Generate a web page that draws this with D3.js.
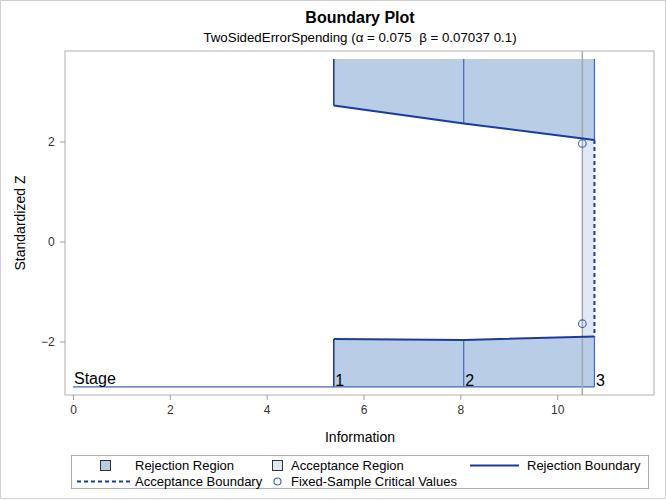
<!DOCTYPE html>
<html><head><meta charset="utf-8">
<script src="https://cdn.jsdelivr.net/npm/d3@7"></script>
<style>
body{margin:0;background:#fff;}
text{font-family:"Liberation Sans",Arial,sans-serif;white-space:pre;}
</style></head>
<body><svg id="c" width="666" height="500"></svg>
<script>
// ---- data ----
const stages = [1, 2, 3];
const info = [5.386, 8.07, 10.77];
const upperBound = [2.72, 2.36, 2.03];
const lowerBound = [-1.95, -1.97, -1.90];
const fixedInfo = 10.52;
const fixedCrit = [1.96, -1.645];
const regionTop = 3.65;
const stageLineZ = -2.907;
const xTicks = [0, 2, 4, 6, 8, 10];
const yTicks = [-2, 0, 2];

const svg = d3.select("#c");
const L = 65, R = 654, T = 51, B = 395;
const x = d3.scaleLinear().domain([-0.165, 12.0]).range([L, R]);
const y = d3.scaleLinear().domain([-3.07, 3.81]).range([B, T]);

// outer border
svg.append("rect").attr("x",0.5).attr("y",0.5).attr("width",665).attr("height",498)
  .attr("fill","none").attr("stroke","#d0d0d0");

// titles
svg.append("text").attr("x",360).attr("y",23).attr("text-anchor","middle")
  .attr("font-weight","bold").attr("font-size",16).text("Boundary Plot");
svg.append("text").attr("x",360).attr("y",42).attr("text-anchor","middle")
  .attr("font-size",13.3).text("TwoSidedErrorSpending (α = 0.075  β = 0.07037 0.1)");

const fill = "#b9cde6", dark = "#1a3c9c", mid = "#3f66c2";
const line = d3.line().x(d=>x(d[0])).y(d=>y(d[1]));

// rejection regions
const up = [[info[0], regionTop]].concat(info.map((v,i)=>[v, upperBound[i]])).concat([[info[2], regionTop]]);
const lo = [[info[0], stageLineZ]].concat(info.map((v,i)=>[v, lowerBound[i]])).concat([[info[2], stageLineZ]]);
svg.append("path").attr("d", line(up)+"Z").attr("fill", fill);
svg.append("path").attr("d", line(lo)+"Z").attr("fill", fill);

// acceptance region
svg.append("path").attr("d", line([[fixedInfo, upperBound[2]],[info[2], upperBound[2]],[info[2], lowerBound[2]],[fixedInfo, lowerBound[2]]])+"Z")
  .attr("fill","#dfe8f4");

// stage vertical lines
info.forEach((v,i)=>{
  svg.append("line").attr("x1",x(v)).attr("x2",x(v)).attr("y1",y(regionTop)).attr("y2",y(upperBound[i]))
    .attr("stroke", i===0?dark:mid).attr("stroke-width",i===0?1.6:1.2);
  svg.append("line").attr("x1",x(v)).attr("x2",x(v)).attr("y1",y(lowerBound[i])).attr("y2",y(stageLineZ))
    .attr("stroke", i===0?dark:mid).attr("stroke-width",i===0?1.6:1.2);
});

// stage baseline
svg.append("line").attr("x1",x(0)).attr("x2",x(info[2])).attr("y1",y(stageLineZ)).attr("y2",y(stageLineZ))
  .attr("stroke",mid).attr("stroke-width",1.2);

// fixed-sample reference line
svg.append("line").attr("x1",x(fixedInfo)).attr("x2",x(fixedInfo)).attr("y1",T).attr("y2",B)
  .attr("stroke","#a8a8a8").attr("stroke-width",1.5);

// rejection boundaries
svg.append("path").attr("d", line(info.map((v,i)=>[v, upperBound[i]]))).attr("fill","none")
  .attr("stroke",dark).attr("stroke-width",2);
svg.append("path").attr("d", line(info.map((v,i)=>[v, lowerBound[i]]))).attr("fill","none")
  .attr("stroke",dark).attr("stroke-width",2);

// acceptance boundary
svg.append("line").attr("x1",x(info[2])).attr("x2",x(info[2])).attr("y1",y(upperBound[2])).attr("y2",y(lowerBound[2]))
  .attr("stroke",dark).attr("stroke-width",2).attr("stroke-dasharray","4,3");

// fixed-sample critical values
fixedCrit.forEach(c=>{
  svg.append("circle").attr("cx",x(fixedInfo)).attr("cy",y(c)).attr("r",3.8)
    .attr("fill","none").attr("stroke",mid).attr("stroke-width",1.2);
});

// stage labels
svg.append("text").attr("x",x(0)+1).attr("y",y(stageLineZ)-3).attr("font-size",16)
  .attr("font-family","DejaVu Sans").text("Stage");
stages.forEach((s,i)=>{
  svg.append("text").attr("x",x(info[i])+1.5).attr("y",y(stageLineZ)-1).attr("font-size",16)
    .attr("font-family","DejaVu Sans").text(s);
});

// frame
svg.append("rect").attr("x",L).attr("y",T).attr("width",R-L).attr("height",B-T)
  .attr("fill","none").attr("stroke","#b0b0b0");

// axes
const xa = svg.append("g").attr("transform",`translate(0,${B})`)
  .call(d3.axisBottom(x).tickValues(xTicks).tickSize(5).tickSizeOuter(0).tickFormat(d3.format("d")));
const ya = svg.append("g").attr("transform",`translate(${L},0)`)
  .call(d3.axisLeft(y).tickValues(yTicks).tickSize(5).tickSizeOuter(0).tickFormat(d3.format("d")));
[xa,ya].forEach(a=>{
  a.select(".domain").remove();
  a.selectAll(".tick line").attr("stroke","#a0a0a0");
  a.selectAll(".tick text").attr("font-size",12).attr("fill","#333").attr("font-family","Liberation Sans");
});
xa.selectAll(".tick text").attr("y",9).attr("dy","0.85em");
ya.selectAll(".tick text").attr("dx","-0.2em");

svg.append("text").attr("x",360).attr("y",442).attr("text-anchor","middle").attr("font-size",14)
  .text("Information");
svg.append("text").attr("transform","translate(25,223) rotate(-90)").attr("text-anchor","middle")
  .attr("font-size",14).text("Standardized Z");

// legend
svg.append("rect").attr("x",71.5).attr("y",455.5).attr("width",577).attr("height",33)
  .attr("fill","none").attr("stroke","#b0b0b0");
const lg = svg.append("g").attr("font-size",13);
lg.append("rect").attr("x",100.5).attr("y",460.5).attr("width",10).attr("height",10)
  .attr("fill",fill).attr("stroke","#333");
lg.append("text").attr("x",135).attr("y",470).text("Rejection Region");
lg.append("rect").attr("x",272.5).attr("y",460.5).attr("width",10).attr("height",10)
  .attr("fill","#dfe8f4").attr("stroke","#333");
lg.append("text").attr("x",291).attr("y",470).text("Acceptance Region");
lg.append("line").attr("x1",470).attr("x2",519).attr("y1",465.5).attr("y2",465.5).attr("stroke",dark).attr("stroke-width",2);
lg.append("text").attr("x",527).attr("y",470).text("Rejection Boundary");
lg.append("line").attr("x1",77).attr("x2",131).attr("y1",481.5).attr("y2",481.5).attr("stroke",dark).attr("stroke-width",2).attr("stroke-dasharray","4,3");
lg.append("text").attr("x",135).attr("y",486).text("Acceptance Boundary");
lg.append("circle").attr("cx",277.5).attr("cy",481.5).attr("r",3.5).attr("fill","none").attr("stroke",mid).attr("stroke-width",1.2);
lg.append("text").attr("x",291).attr("y",486).text("Fixed-Sample Critical Values");
</script></body></html>
